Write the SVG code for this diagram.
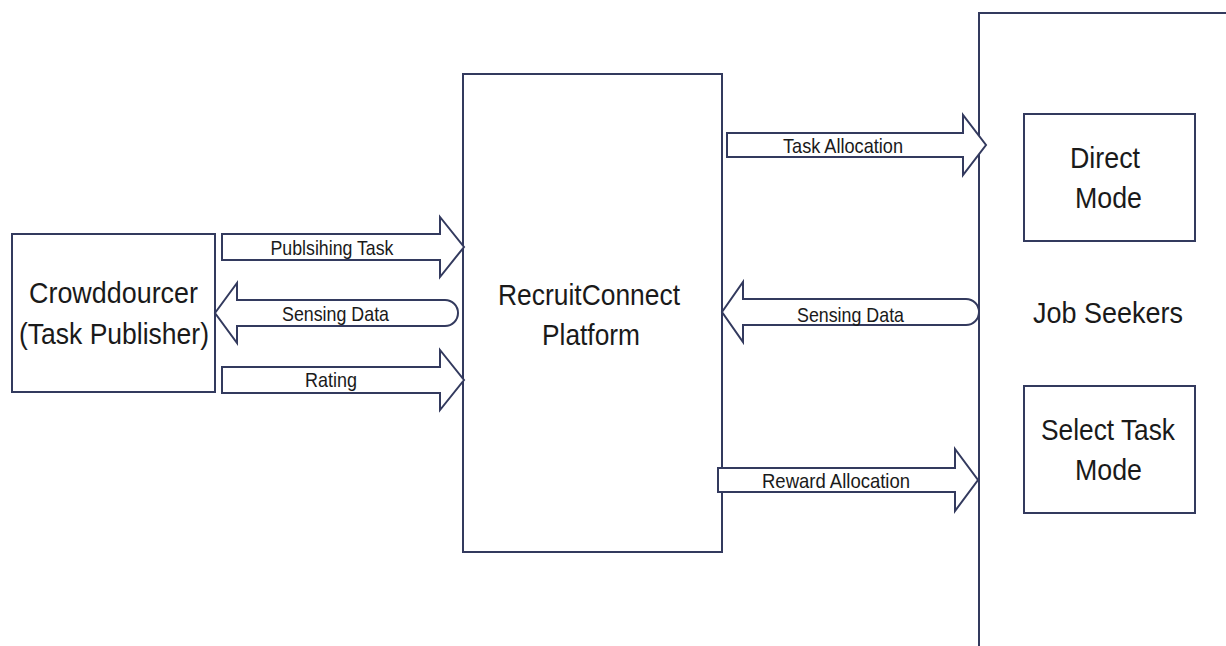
<svg xmlns="http://www.w3.org/2000/svg" width="1226" height="646" viewBox="0 0 1226 646">
  <style>
    .box { fill: #ffffff; stroke: #333a5e; stroke-width: 2; }
    .arrow { fill: #ffffff; stroke: #333a5e; stroke-width: 2; stroke-linejoin: miter; }
    .big { font-family: "Liberation Sans", Arial, sans-serif; font-size: 30px; fill: #1a1a1a; text-anchor: middle; }
    .small { font-family: "Liberation Sans", Arial, sans-serif; font-size: 21px; fill: #1a1a1a; text-anchor: middle; }
  </style>
  <rect width="1226" height="646" fill="#ffffff"/>

  <g id="crowdsourcer">
    <rect class="box" x="12" y="234" width="203" height="158"/>
    <text class="big" x="113.5" y="303" textLength="169" lengthAdjust="spacingAndGlyphs">Crowddourcer</text>
    <text class="big" x="114" y="344" textLength="190" lengthAdjust="spacingAndGlyphs">(Task Publisher)</text>
  </g>

  <g id="platform">
    <rect class="box" x="463" y="74" width="259" height="478"/>
    <text class="big" x="589" y="305" textLength="182" lengthAdjust="spacingAndGlyphs">RecruitConnect</text>
    <text class="big" x="591" y="345" textLength="98" lengthAdjust="spacingAndGlyphs">Platform</text>
  </g>

  <g id="job-seekers">
    <rect class="box" x="979" y="13" width="300" height="700"/>
    <text class="big" x="1108" y="323" textLength="150" lengthAdjust="spacingAndGlyphs">Job Seekers</text>
  </g>

  <g id="direct-mode">
    <rect class="box" x="1024" y="114" width="171" height="127"/>
    <text class="big" x="1105" y="168" textLength="70" lengthAdjust="spacingAndGlyphs">Direct</text>
    <text class="big" x="1108.5" y="208" textLength="67" lengthAdjust="spacingAndGlyphs">Mode</text>
  </g>

  <g id="select-task-mode">
    <rect class="box" x="1024" y="386" width="171" height="127"/>
    <text class="big" x="1108" y="440" textLength="134" lengthAdjust="spacingAndGlyphs">Select Task</text>
    <text class="big" x="1108.5" y="480" textLength="67" lengthAdjust="spacingAndGlyphs">Mode</text>
  </g>

  <g id="connectors">
    <path class="arrow" d="M222,234 H440 V217 L464,247 L440,277 V260 H222 Z"/>
    <text class="small" x="332" y="255" textLength="123" lengthAdjust="spacingAndGlyphs">Publsihing Task</text>

    <path class="arrow" d="M215,313 L237,283 V300 H445 A13,13 0 0 1 445,326 H237 V343 Z"/>
    <text class="small" x="335.5" y="321" textLength="107" lengthAdjust="spacingAndGlyphs">Sensing Data</text>

    <path class="arrow" d="M222,367 H440 V350 L464,380 L440,410 V393 H222 Z"/>
    <text class="small" x="331" y="387" textLength="52" lengthAdjust="spacingAndGlyphs">Rating</text>

    <path class="arrow" d="M727,133 H963 V115 L986,145 L963,175 V157 H727 Z"/>
    <text class="small" x="843" y="153" textLength="120" lengthAdjust="spacingAndGlyphs">Task Allocation</text>

    <path class="arrow" d="M722,312 L743,282 V299 H966 A13,13 0 0 1 966,325 H743 V342 Z"/>
    <text class="small" x="850.5" y="322" textLength="107" lengthAdjust="spacingAndGlyphs">Sensing Data</text>

    <path class="arrow" d="M718,468 H955 V449 L978,480 L955,511 V492 H718 Z"/>
    <text class="small" x="836" y="488" textLength="148" lengthAdjust="spacingAndGlyphs">Reward Allocation</text>
  </g>
</svg>
